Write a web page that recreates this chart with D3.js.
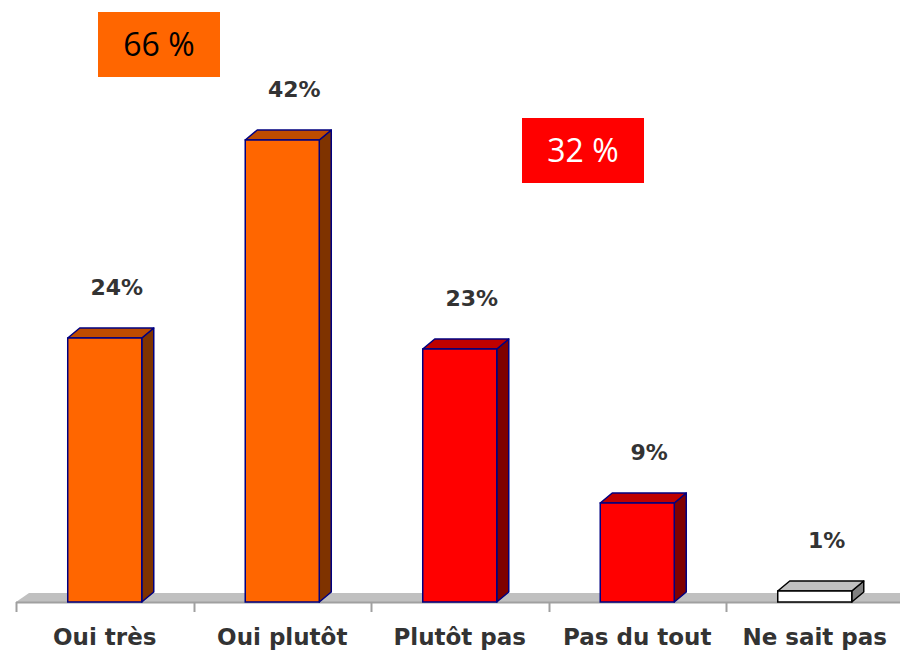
<!DOCTYPE html>
<html>
<head>
<meta charset="utf-8">
<script src="https://cdn.jsdelivr.net/npm/d3@7"></script>
<style>
  body { margin: 0; background: #fff; }
  svg { display: block; }
</style>
</head>
<body>
<svg id="chart" width="900" height="653"></svg>
<script>
// Chart data
const categories = ['Oui très', 'Oui plutôt', 'Plutôt pas', 'Pas du tout', 'Ne sait pas'];
const values = [24, 42, 23, 9, 1];
const groups = ['oui', 'oui', 'non', 'non', 'nsp'];
const totalLabels = ['66 %', '32 %'];

// Face colours per group
const palette = {
  oui: { front: '#FF6600', top: '#BF4C00', side: '#7F3300', stroke: '#000080' },
  non: { front: '#FF0000', top: '#BF0000', side: '#7F0000', stroke: '#000080' },
  nsp: { front: '#FFFFFF', top: '#C0C0C0', side: '#808080', stroke: '#000000' }
};

const svg = d3.select('#chart');
const labelFont = '"DejaVu Sans", sans-serif';
const boxFont = '"Open Sans", "DejaVu Sans", sans-serif';

// Some set up
const left = 16, right = 903.5;
const base = 602;
const depth = { x: 12, y: 10 };

const x = d3.scaleBand()
  .domain(categories)
  .range([left, right])
  .paddingInner(0.583)
  .paddingOuter(0.2915);

const y = d3.scaleLinear()
  .domain([0, 42])
  .range([base, base - 462]);

// Floor
svg.append('path')
  .attr('d', `M${left},${base} L${left + depth.x + 1},${base - depth.y + 1} L900,${base - depth.y + 1} L900,${base} Z`)
  .attr('fill', '#C0C0C0');

// Axis with ticks between categories
const band = (right - left) / categories.length;
svg.append('line')
  .attr('x1', left).attr('x2', 900)
  .attr('y1', base + 0.5).attr('y2', base + 0.5)
  .attr('stroke', '#A0A0A0').attr('stroke-width', 2);

d3.range(categories.length).forEach(i => {
  const tx = Math.round(left + i * band) + 0.5;
  svg.append('line')
    .attr('x1', tx).attr('x2', tx)
    .attr('y1', base).attr('y2', base + 10)
    .attr('stroke', '#A0A0A0').attr('stroke-width', 2);
});

// 3D bars
const bars = svg.selectAll('g.bar')
  .data(categories)
  .join('g')
  .attr('class', 'bar');

bars.each(function(c, i) {
  const g = d3.select(this);
  const col = palette[groups[i]];
  const x0 = x(c), x1 = x(c) + x.bandwidth();
  const top = y(values[i]);
  const dx = depth.x, dy = depth.y;

  g.append('path')
    .attr('d', `M${x1},${top} L${x1 + dx},${top - dy} L${x1 + dx},${base - dy} L${x1},${base} Z`)
    .attr('fill', col.side).attr('stroke', col.stroke).attr('stroke-width', 1.5)
    .attr('stroke-linejoin', 'round');
  g.append('path')
    .attr('d', `M${x0},${top} L${x0 + dx},${top - dy} L${x1 + dx},${top - dy} L${x1},${top} Z`)
    .attr('fill', col.top).attr('stroke', col.stroke).attr('stroke-width', 1.5)
    .attr('stroke-linejoin', 'round');
  g.append('rect')
    .attr('x', x0).attr('y', top)
    .attr('width', x1 - x0).attr('height', base - top)
    .attr('fill', col.front).attr('stroke', col.stroke).attr('stroke-width', 1.5);

  // Value label
  g.append('text')
    .attr('x', (x0 + x1) / 2 + dx)
    .attr('y', top - 43)
    .attr('text-anchor', 'middle')
    .attr('font-family', labelFont)
    .attr('font-weight', 'bold')
    .attr('font-size', 22)
    .attr('fill', '#333')
    .text(values[i] + '%');
});

// Category labels
svg.selectAll('text.cat')
  .data(categories)
  .join('text')
  .attr('class', 'cat')
  .attr('x', d => x(d) + x.bandwidth() / 2)
  .attr('y', 645)
  .attr('text-anchor', 'middle')
  .attr('font-family', labelFont)
  .attr('font-weight', 'bold')
  .attr('font-size', 23)
  .attr('fill', '#333')
  .text(d => d);

// Total boxes
const boxes = [
  { label: totalLabels[0], x: 98, y: 12, fill: '#FF6600', text: '#000' },
  { label: totalLabels[1], x: 522, y: 118, fill: '#FF0000', text: '#fff' }
];
boxes.forEach(b => {
  svg.append('rect')
    .attr('x', b.x).attr('y', b.y)
    .attr('width', 122).attr('height', 65)
    .attr('fill', b.fill);
  svg.append('text')
    .attr('x', b.x + 61).attr('y', b.y + 44)
    .attr('text-anchor', 'middle')
    .attr('font-family', boxFont)
    .attr('font-size', 32)
    .attr('fill', b.text)
    .text(b.label);
});
</script>
</body>
</html>
